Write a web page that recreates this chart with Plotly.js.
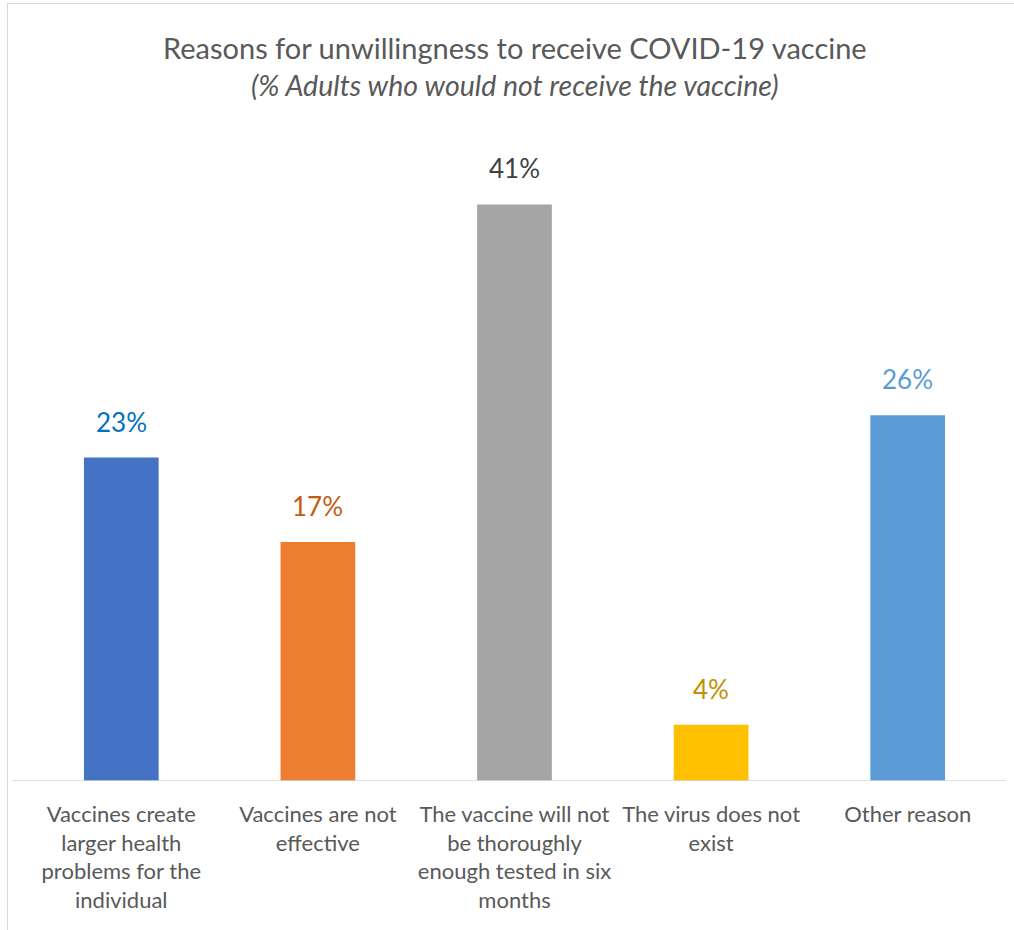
<!DOCTYPE html>
<html>
<head>
<meta charset="utf-8">
<script src="https://cdn.plot.ly/plotly-3.0.1.min.js"></script>
<style>
  html, body { margin: 0; padding: 0; background: #ffffff; }
  #frame { position: absolute; left: 7px; top: 3px; width: 1020px; height: 940px;
           border: 1.5px solid #d9d9d9; box-sizing: border-box; }
  #chart { position: absolute; left: 0; top: 0; width: 1014px; height: 930px; }
</style>
</head>
<body>
<div id="frame"></div>
<div id="chart"></div>
<script>
// Survey reasons and their shares (percent of adults who would not be vaccinated)
const reasons = [
  "Vaccines create<br>larger health<br>problems for the<br>individual",
  "Vaccines are not<br>effective",
  "The vaccine will not<br>be thoroughly<br>enough tested in six<br>months",
  "The virus does not<br>exist",
  "Other reason"
];
const shares = [23, 17, 41, 4, 26];
const barColors = ["#4472C4", "#ED7D31", "#A5A5A5", "#FFC000", "#5B9BD5"];
const labelColors = ["#0070C0", "#C55A11", "#404040", "#BF9000", "#5B9BD5"];

const chartTitle = "Reasons for unwillingness to receive COVID-19 vaccine";
const chartSubtitle = "(% Adults who would not receive the vaccine)";

const FONT = "Lato, 'Open Sans', sans-serif";
const idx = reasons.map((_, i) => i);

const trace = {
  type: "bar",
  x: idx,
  y: shares,
  marker: { color: barColors },
  hoverinfo: "none"
};

const valueLabels = shares.map((v, i) => ({
  x: i, y: v, xref: "x", yref: "y",
  text: v + "%",
  showarrow: false,
  yanchor: "bottom",
  yshift: 18,
  font: { family: FONT, size: 26, color: labelColors[i] }
}));

const headings = [
  {
    text: chartTitle, xref: "paper", yref: "paper", x: 0.5, y: 1,
    xanchor: "center", yanchor: "middle", yshift: 73, showarrow: false,
    font: { family: FONT, size: 29, color: "#595959" }
  },
  {
    text: "<i>" + chartSubtitle + "</i>", xref: "paper", yref: "paper", x: 0.5, y: 1,
    xanchor: "center", yanchor: "middle", yshift: 35, showarrow: false,
    font: { family: FONT, size: 28.5, color: "#595959" }
  }
];

const layout = {
  width: 1014,
  height: 930,
  paper_bgcolor: "rgba(0,0,0,0)",
  plot_bgcolor: "rgba(0,0,0,0)",
  margin: { l: 23, r: 8, t: 120, b: 149 },
  showlegend: false,
  bargap: 0.62,
  xaxis: {
    tickmode: "array",
    tickvals: idx,
    ticktext: reasons,
    range: [-0.5, reasons.length - 0.5],
    tickfont: { family: FONT, size: 22, color: "#595959" },
    ticks: "",
    ticklabelstandoff: 18,
    showline: false,
    showgrid: false,
    zeroline: false,
    fixedrange: true
  },
  yaxis: {
    range: [0, 47],
    showticklabels: false,
    showgrid: false,
    zeroline: false,
    showline: false,
    ticks: "",
    fixedrange: true
  },
  shapes: [{
    type: "line", xref: "paper", yref: "y",
    x0: -0.011, x1: 1.0, y0: 0, y1: 0,
    line: { color: "#d9d9d9", width: 1.5 }
  }],
  annotations: headings.concat(valueLabels)
};

Plotly.newPlot("chart", [trace], layout, { displayModeBar: false, staticPlot: true });
</script>
</body>
</html>
